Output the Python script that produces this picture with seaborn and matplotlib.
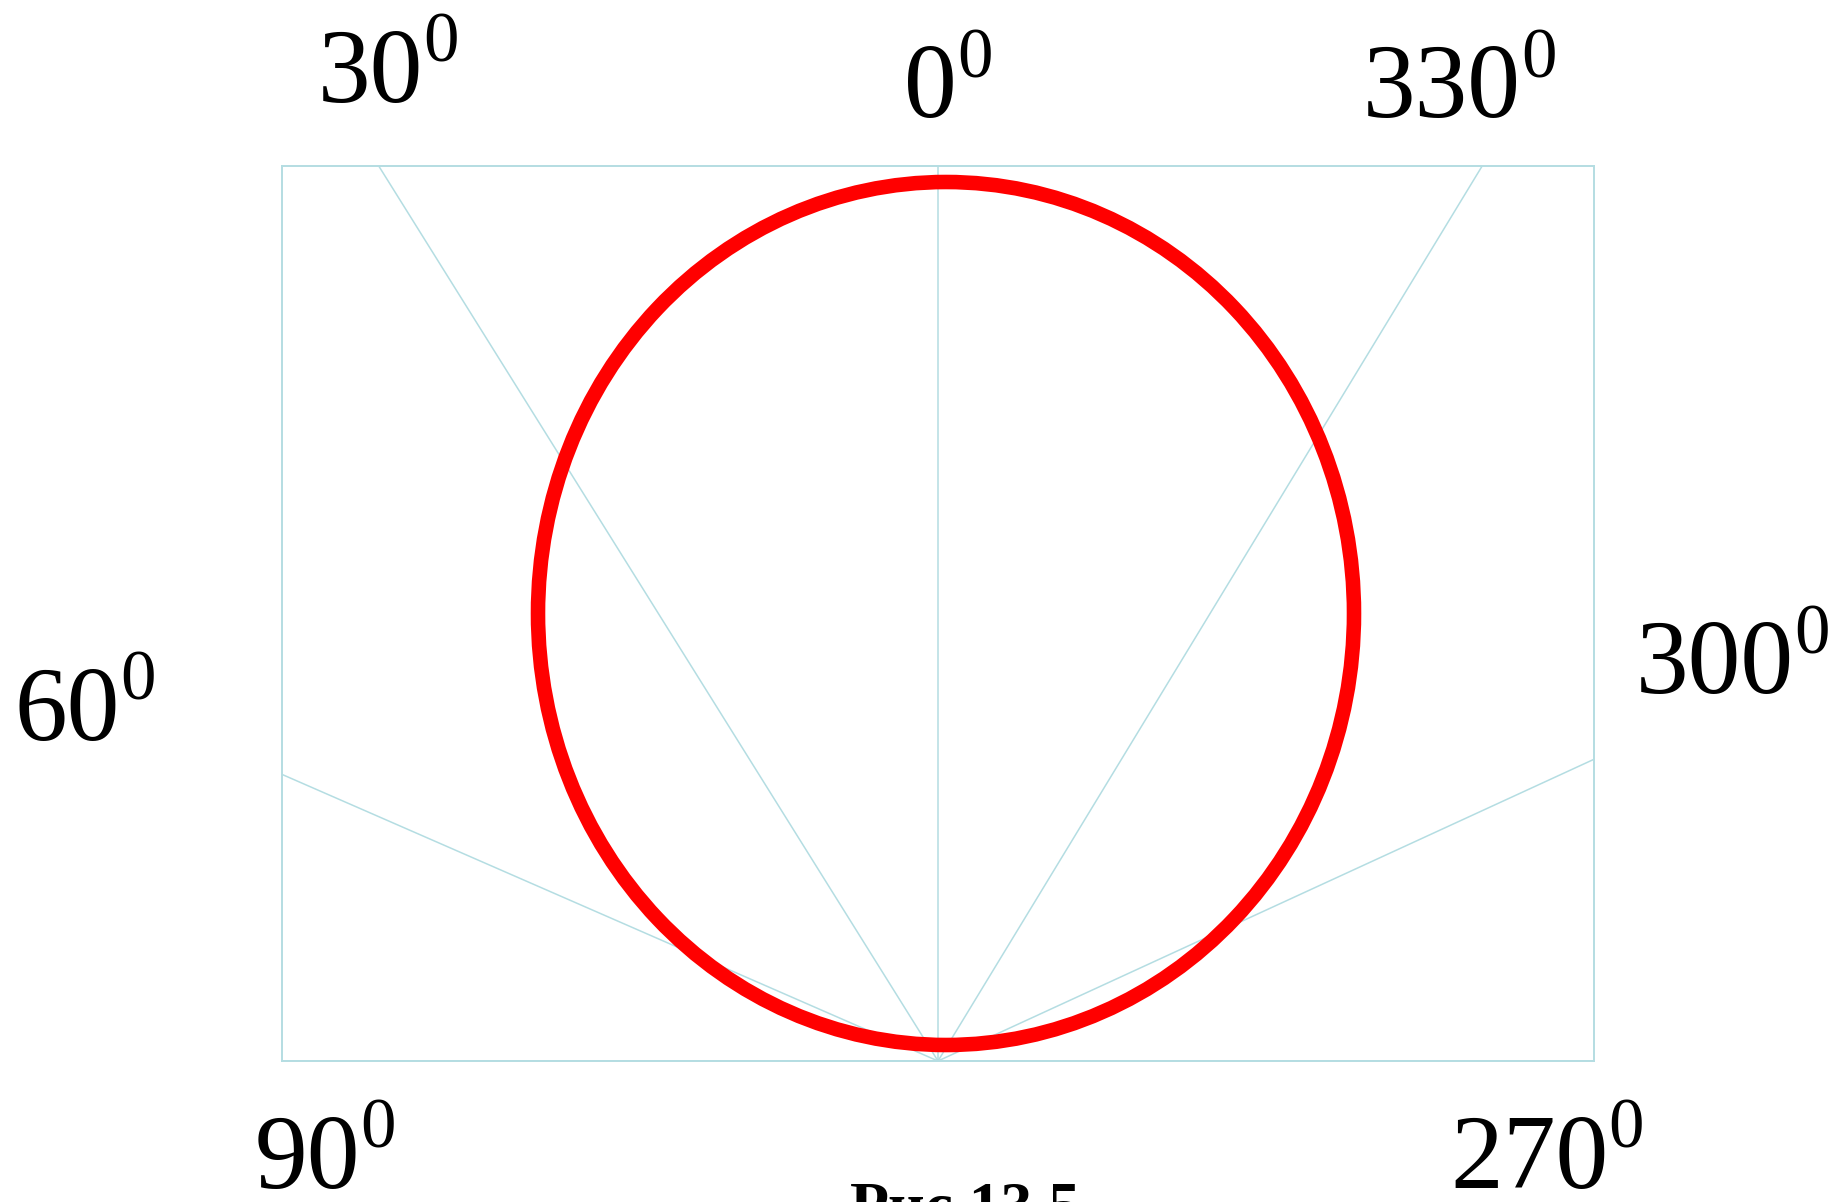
import numpy as np
import pandas as pd
import matplotlib
matplotlib.use('Agg')
import matplotlib.pyplot as plt
from matplotlib.patches import Ellipse
import seaborn as sns

# directions of the guide rays as drawn (degrees, counter-clockwise from top)
ray_deg = [0, 32.0, 66.4, 90, 270, 294.7, 328.7]
label_text = ['0', '30', '60', '90', '270', '300', '330']
# label anchors (left, baseline) in data units
label_x = [-0.34, -6.20, -9.23, -6.83, 5.12, 6.98, 4.25]
label_y = [9.44, 9.59, 3.21, -1.27, -1.27, 3.68, 9.44]

# the pattern circle
circle_center = (0.08, 4.475)
circle_w = 8.16
circle_h = 8.63

caption = 'Рис.13.5'

ray_len = 20.0
rows = []
for d in ray_deg:
    t = np.deg2rad(d)
    rows.append({'ray': d, 'x': 0.0, 'y': 0.0})
    rows.append({'ray': d, 'x': -ray_len * np.sin(t), 'y': ray_len * np.cos(t)})
df_rays = pd.DataFrame(rows)

sns.set_theme(style='white')
plt.rcParams['font.family'] = ['Liberation Serif', 'DejaVu Serif']

guide = '#b4dde2'

fig = plt.figure(figsize=(18.37, 12.02), dpi=100)
ax = fig.add_axes([282 / 1837, 141 / 1202, 1312 / 1837, 895 / 1202])

sns.lineplot(data=df_rays, x='x', y='y', units='ray', estimator=None, sort=False,
             color=guide, linewidth=1.1, ax=ax, legend=False)

ax.add_patch(Ellipse(circle_center, circle_w, circle_h, fill=False,
                     edgecolor='#ff0000', linewidth=10.5, zorder=5))

ax.set_xlim(-6.56, 6.56)
ax.set_ylim(0, 8.95)
ax.set_xticks([])
ax.set_yticks([])
ax.set_xlabel('')
ax.set_ylabel('')
for s in ax.spines.values():
    s.set_color(guide)
    s.set_linewidth(1.4)

# angle labels with a raised "0" as the degree mark
for txt, lx, ly in zip(label_text, label_x, label_y):
    t = ax.text(lx, ly, txt, fontsize=76, ha='left', va='baseline',
                clip_on=False, color='black')
    ax.annotate('0', xy=(1, ly), xycoords=(t, 'data'), xytext=(0, 40),
                textcoords='offset pixels', fontsize=51, ha='left',
                va='baseline', annotation_clip=False, color='black')

fig.text(850 / 1837, -23 / 1202, caption, fontsize=46, fontweight='bold',
         ha='left', va='baseline', color='black')

fig.savefig('out.png', dpi=100)
